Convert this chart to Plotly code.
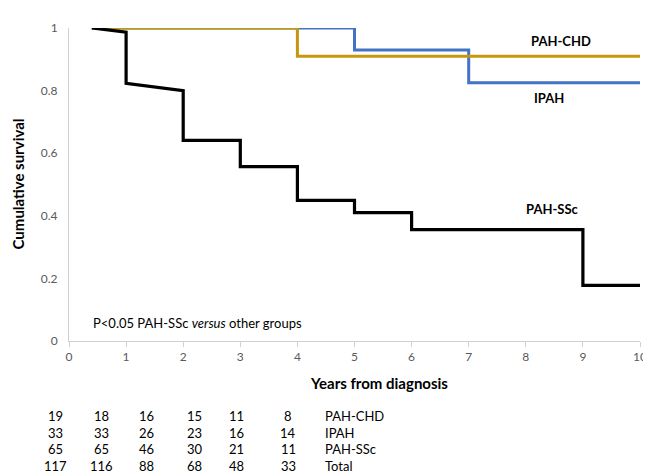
import plotly.graph_objects as go

# Kaplan-Meier style curves (vertices)
chd_t = [0.4, 4, 4, 10]
chd_s = [1.0, 1.0, 0.91, 0.91]
ipah_t = [0.4, 5, 5, 7, 7, 10]
ipah_s = [1.0, 1.0, 0.93, 0.93, 0.825, 0.825]
ssc_t = [0.4, 1, 1, 2, 2, 3, 3, 4, 4, 5, 5, 6, 6, 9, 9, 10]
ssc_s = [1.0, 0.987, 0.823, 0.80, 0.641, 0.641, 0.557, 0.557, 0.449, 0.449,
         0.41, 0.41, 0.356, 0.356, 0.178, 0.178]

# Numbers at risk table
risk_groups = ["PAH-CHD", "IPAH", "PAH-SSc", "Total"]
risk_chd = [19, 18, 16, 15, 11, 8]
risk_ipah = [33, 33, 26, 23, 16, 14]
risk_ssc = [65, 65, 46, 30, 21, 11]
risk_total = [117, 116, 88, 68, 48, 33]

FONT = "Lato"
GOLD = "#C6960F"
BLUE = "#4472C4"

fig = go.Figure()
fig.add_trace(go.Scatter(x=ipah_t, y=ipah_s, mode="lines", line=dict(color=BLUE, width=3), name="IPAH"))
fig.add_trace(go.Scatter(x=chd_t, y=chd_s, mode="lines", line=dict(color=GOLD, width=3), name="PAH-CHD"))
fig.add_trace(go.Scatter(x=ssc_t, y=ssc_s, mode="lines", line=dict(color="black", width=3.2), name="PAH-SSc"))

OFF = 8  # page offset of the figure (body margin)
W, H = 651, 475
X0, X1, Y0, Y1 = 69, 645, 20, 341  # plot area in screen pixels
L, R, T, B = X0 - OFF, W - (X1 - OFF), Y0 - OFF, H - (Y1 - OFF)
pw, ph = X1 - X0, Y1 - Y0

def px(xs):
    return (xs - X0) / pw

def py(ys):
    return (Y1 - ys) / ph

ann = []
ann.append(dict(x=px(565), y=py(33), text="<b>PAH-CHD</b>", showarrow=False))
ann.append(dict(x=px(553), y=py(92), text="<b>IPAH</b>", showarrow=False))
ann.append(dict(x=px(557), y=py(206), text="<b>PAH-SSc</b>", showarrow=False))
ann.append(dict(x=px(91), y=py(323), text="P<0.05 PAH-SSc <i>versus</i> other groups",
                showarrow=False, xanchor="left"))
ann.append(dict(x=px(382), y=py(384), text="<b>Years from diagnosis</b>", showarrow=False,
                font=dict(size=15, color="black", family=FONT)))
ann.append(dict(x=px(18), y=py(180), text="<b>Cumulative survival</b>", showarrow=False, textangle=-90,
                font=dict(size=15, color="black", family=FONT)))

col_x = [55, 102, 147, 196, 238, 290]
row_y = [418, 435, 452, 469]
rows = [risk_chd, risk_ipah, risk_ssc, risk_total]
for ri, (vals, g) in enumerate(zip(rows, risk_groups)):
    for ci, v in enumerate(vals):
        ann.append(dict(x=px(col_x[ci]), y=py(row_y[ri]), text=str(v), showarrow=False))
    ann.append(dict(x=px(325), y=py(row_y[ri]), text=g, showarrow=False, xanchor="left"))

for a in ann:
    a.setdefault("xref", "paper")
    a.setdefault("yref", "paper")
    a.setdefault("xanchor", "center")
    a.setdefault("yanchor", "middle")
    a.setdefault("font", dict(size=13, color="black", family=FONT))

fig.update_layout(
    width=W, height=H,
    margin=dict(l=L, r=R, t=T, b=B),
    plot_bgcolor="white", paper_bgcolor="white",
    showlegend=False,
    annotations=ann,
    font=dict(family=FONT),
    xaxis=dict(range=[0, 10], dtick=1, showgrid=False, zeroline=False, showline=True,
               linecolor="#D0D0D0", linewidth=1, ticks="outside", ticklen=5, tickcolor="#D0D0D0",
               ticklabeloverflow="allow",
               tickfont=dict(size=12, color="#595959", family=FONT)),
    yaxis=dict(range=[0, 1], dtick=0.2, showgrid=False, zeroline=False, showline=True,
               linecolor="#D0D0D0", linewidth=1, ticks="", ticklabelstandoff=8,
               tickfont=dict(size=12, color="#595959", family=FONT)),
)

fig.write_html("out.html")
